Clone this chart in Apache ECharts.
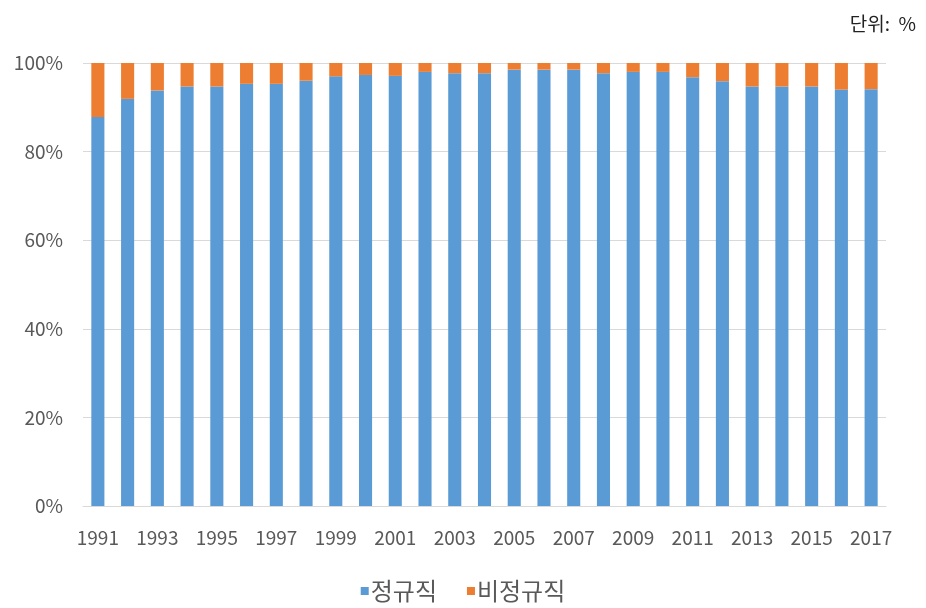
<!DOCTYPE html>
<html><head><meta charset="utf-8">
<script src="https://cdn.jsdelivr.net/npm/echarts@6/dist/echarts.min.js"></script>
<style>html,body{margin:0;padding:0;background:#fff}#c{width:926px;height:608px}</style>
</head><body><div id="c"></div>
<script>
var years = ['1991','1992','1993','1994','1995','1996','1997','1998','1999','2000','2001','2002','2003','2004','2005','2006','2007','2008','2009','2010','2011','2012','2013','2014','2015','2016','2017'];
var regular = [87.8,91.9,93.8,94.7,94.7,95.3,95.3,96.0,97.0,97.3,97.1,98.0,97.7,97.7,98.5,98.5,98.5,97.7,98.0,98.0,96.8,95.9,94.7,94.7,94.7,94.0,94.1];
var nonRegular = regular.map(function(v){return +(100 - v).toFixed(1);});
var seriesNames = ['정규직','비정규직'];
var chart = echarts.init(document.getElementById('c'));
var font = '"Noto Sans CJK KR", "Noto Sans", sans-serif';
chart.setOption({
  animation:false,
  textStyle:{fontFamily:font},
  title:{text:'단위:  %', right:5, top:9, textStyle:{fontSize:19, fontWeight:'normal', color:'#222', fontFamily:font}},
  grid:{left:83, right:40, top:63, bottom:102},
  legend:{bottom:0, left:'center', itemWidth:8, itemHeight:8, itemGap:30, icon:'rect',
    textStyle:{fontSize:24, color:'#595959', fontFamily:font, padding:[0,0,0,-3]}, data:seriesNames},
  xAxis:{type:'category', data:years, axisTick:{show:false},
    axisLine:{lineStyle:{color:'#d9d9d9'}},
    axisLabel:{interval:1, fontSize:19, color:'#595959', margin:22}},
  yAxis:{type:'value', min:0, max:100, interval:20,
    axisLabel:{formatter:'{value}%', fontSize:19, color:'#595959', margin:20},
    splitLine:{lineStyle:{color:'#d9d9d9'}}, axisLine:{show:false}, axisTick:{show:false}},
  series:[
    {name:seriesNames[0], type:'bar', stack:'a', data:regular, barWidth:'44%', itemStyle:{color:'#5B9BD5'}},
    {name:seriesNames[1], type:'bar', stack:'a', data:nonRegular, barWidth:'44%', itemStyle:{color:'#ED7D31'}}
  ]
});
</script></body></html>
